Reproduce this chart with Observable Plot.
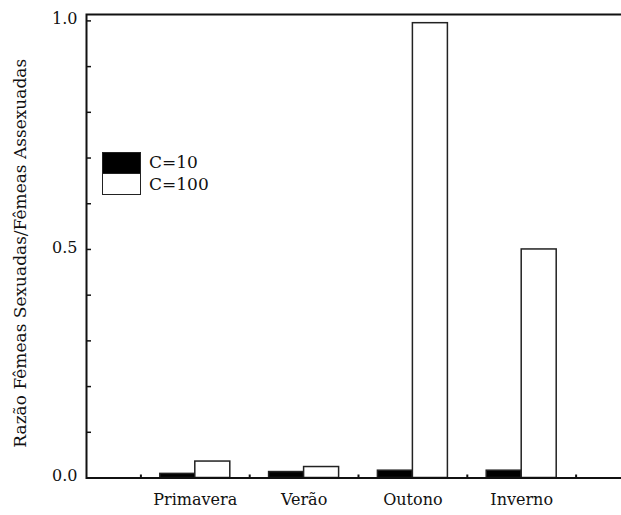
<!DOCTYPE html>
<html>
<head>
<meta charset="utf-8">
<script src="https://cdn.jsdelivr.net/npm/d3@7"></script>
<script src="https://cdn.jsdelivr.net/npm/@observablehq/plot@0.6"></script>
<style>
  body { margin: 0; background: #fff; overflow: hidden; }
  #chart { position: relative; width: 621px; height: 515px; overflow: hidden; }
  .legend { position: absolute; left: 102px; top: 152px; font-family: "DejaVu Serif", serif; font-size: 17px; color: #111; }
  .legend .sw { position: absolute; left: 0; width: 39px; height: 22px; box-sizing: border-box; border: 1.5px solid #222; }
  .legend .lab { position: absolute; left: 47px; height: 21px; line-height: 21px; white-space: nowrap; }
</style>
</head>
<body>
<div id="chart"></div>
<script>
// Seasons and the two treatment series
const seasons = ["Primavera", "Verão", "Outono", "Inverno"];
const seriesNames = ["C=10", "C=100"];
const c10 = [0.009, 0.013, 0.016, 0.016];
const c100 = [0.036, 0.024, 0.995, 0.5];

// Axis ticks
const yMinorTicks = [0, 0.1, 0.2, 0.3, 0.4, 0.5, 0.6, 0.7, 0.8, 0.9, 1.0];
const yMajorTicks = [0, 0.5, 1.0];
const yLabel = "Razão Fêmeas Sexuadas/Fêmeas Assexuadas";

const rows10 = seasons.map((s, i) => ({season: s, value: c10[i]}));
const rows100 = seasons.map((s, i) => ({season: s, value: c100[i]}));

// Layout: the plotting area runs past the right edge of the page
const width = 621, height = 515;
const marginLeft = 86, plotRight = 630;
const step = (plotRight - marginLeft) / (seasons.length + 1);
const barWidth = 35;
const half = step / 2;
const gap = half - barWidth;
const serif = "'DejaVu Serif', serif";

const chart = Plot.plot({
  width, height,
  marginLeft, marginRight: width - plotRight,
  marginTop: 14, marginBottom: 37.5,
  style: {fontFamily: serif, fontSize: "16px", color: "#111", background: "#fff", overflow: "hidden"},
  x: {domain: seasons, paddingInner: 0, paddingOuter: 0.5, round: false, axis: null},
  y: {domain: [0, 1.014], axis: null},
  marks: [
    Plot.barY(rows10, {x: "season", y: "value", fill: "#000", stroke: "#222", strokeWidth: 1.5, insetLeft: gap, insetRight: half}),
    Plot.barY(rows100, {x: "season", y: "value", fill: "#fff", stroke: "#222", strokeWidth: 1.5, insetLeft: half, insetRight: gap}),
    Plot.axisY(yMinorTicks, {tickSize: -5, fill: "none", label: null, strokeWidth: 1.5}),
    Plot.axisY(yMajorTicks, {tickSize: 0, tickPadding: 9, tickFormat: d3.format(".1f"), label: null, dy: -2}),
    Plot.axisX(seasons, {tickSize: 0, tickPadding: 16, label: null}),
    Plot.axisX(seasons, {tickSize: -3, fill: "none", label: null, dx: -half, strokeWidth: 2}),
    Plot.axisX([seasons[seasons.length - 1]], {tickSize: -3, fill: "none", label: null, dx: half, strokeWidth: 2}),
    Plot.frame({stroke: "#111", strokeWidth: 2}),
    Plot.text([yLabel], {
      text: d => d, frameAnchor: "left", textAnchor: "middle", lineAnchor: "middle",
      rotate: -90, dx: -66, dy: 7, fontSize: 17, fontFamily: serif, fill: "#111"
    })
  ]
});

const host = document.getElementById("chart");
host.appendChild(chart);

// Legend inside the plotting area
const legend = document.createElement("div");
legend.className = "legend";
legend.innerHTML = `
  <div class="sw" style="top:0;background:#000"></div>
  <div class="sw" style="top:20.5px;background:#fff"></div>
  <div class="lab" style="top:0">${seriesNames[0]}</div>
  <div class="lab" style="top:22px">${seriesNames[1]}</div>`;
host.appendChild(legend);
</script>
</body>
</html>
